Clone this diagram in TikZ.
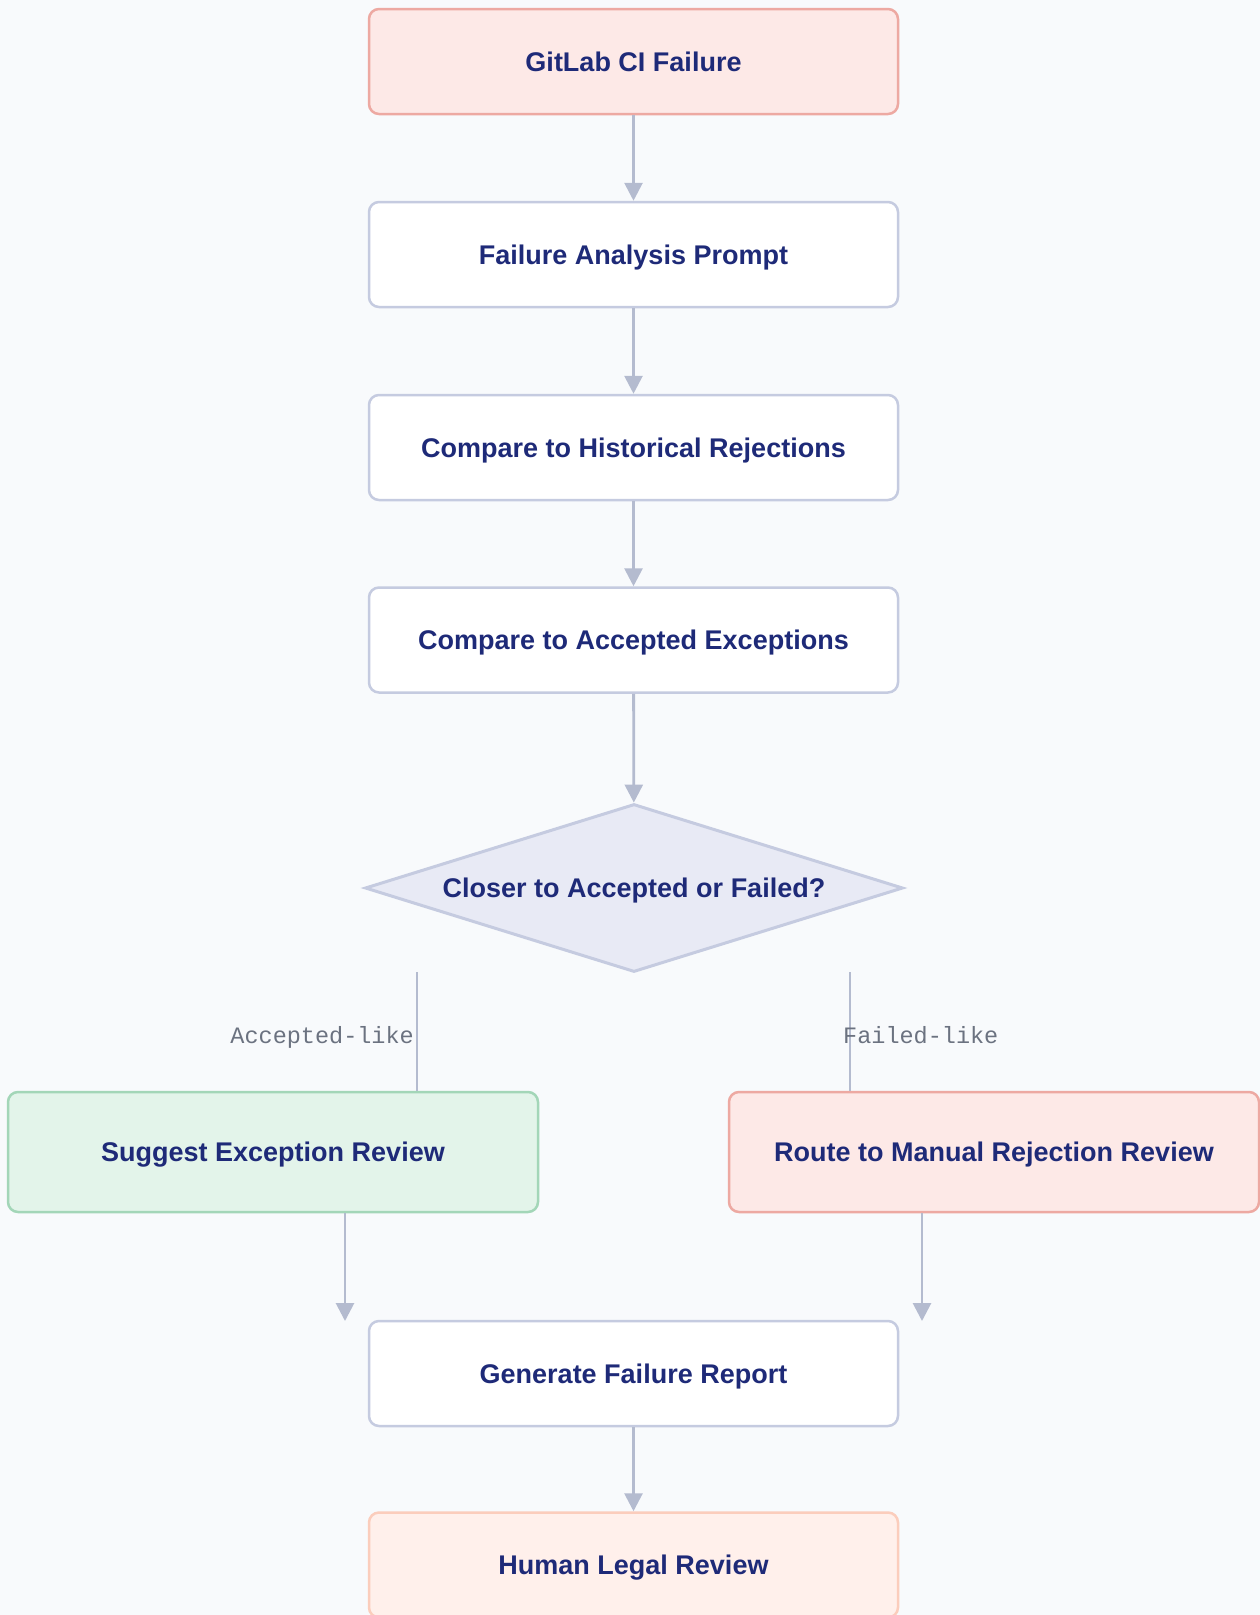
\documentclass[tikz,border=0pt]{standalone}
\usepackage{fontspec}
\setmainfont{Liberation Sans}
\setmonofont{Liberation Mono}
\usetikzlibrary{shapes.geometric,arrows.meta}
\definecolor{bgc}{HTML}{F8FAFC}
\definecolor{boxstroke}{HTML}{C5CBE0}
\definecolor{redfill}{HTML}{FDE9E7}
\definecolor{redstroke}{HTML}{EDA9A2}
\definecolor{greenfill}{HTML}{E3F4EA}
\definecolor{greenstroke}{HTML}{A3D6B8}
\definecolor{humfill}{HTML}{FFF0EB}
\definecolor{humstroke}{HTML}{FBCDBC}
\definecolor{decfill}{HTML}{E8EAF5}
\definecolor{arrc}{HTML}{B4BBCF}
\definecolor{txt}{HTML}{1E2A78}
\definecolor{lblc}{HTML}{6B7280}
\newcommand\mainfnt{\fontsize{27}{32}\selectfont\bfseries}
\newcommand\lblfnt{\ttfamily\fontsize{23.5}{28}\selectfont}
\begin{document}
\begin{tikzpicture}[x=1pt,y=-1pt,
  box/.style={rectangle, rounded corners=10pt, minimum width=529pt, minimum height=105pt,
    line width=2.5pt, draw=boxstroke, fill=white, font=\mainfnt, text=txt, inner sep=0pt,
    text height=19.4pt, text depth=0pt},
  sidebox/.style={box, minimum width=530pt, minimum height=120pt},
  redbox/.style={fill=redfill, draw=redstroke},
  greenbox/.style={fill=greenfill, draw=greenstroke},
  humbox/.style={fill=humfill, draw=humstroke},
  decision/.style={diamond, aspect=3.2, minimum width=538pt, minimum height=168pt, inner sep=0pt,
    line width=3pt, draw=boxstroke, fill=decfill, font=\mainfnt, text=txt,
    text height=19.4pt, text depth=0pt},
  arr/.style={line width=2.8pt, draw=arrc, -{Triangle[width=18pt,length=18pt]}},
  branch/.style={line width=1.8pt, draw=arrc},
  lbl/.style={font=\lblfnt, text=lblc, inner sep=0pt, text height=15pt, text depth=0pt}
]
\fill[bgc] (0,0) rectangle (1260,1615);
\useasboundingbox (0,0) rectangle (1260,1615);

\node[box, redbox] (b1) at (633.5,61.5) {GitLab CI Failure};
\node[box] (b2) at (633.5,254.5) {Failure Analysis Prompt};
\node[box] (b3) at (633.5,447.5) {Compare to Historical Rejections};
\node[box] (b4) at (633.5,640) {Compare to Accepted Exceptions};
\node[decision] (dec) at (634,888) {Closer to Accepted or Failed?};
\node[sidebox, greenbox] (sug) at (273,1152) {Suggest Exception Review};
\node[sidebox, redbox] (rte) at (994,1152) {Route to Manual Rejection Review};
\node[box] (gen) at (633.5,1373.5) {Generate Failure Report};
\node[box, humbox] (hum) at (633.5,1565) {Human Legal Review};

\draw[arr] (b1) -- (b2);
\draw[arr] (b2) -- (b3);
\draw[arr] (b3) -- (b4);
\draw[arr] (b4) -- (dec);

\coordinate (lt) at (417,972);
\coordinate (rt) at (850,972);
\draw[branch] (lt) -- (lt |- sug.north);
\draw[branch] (rt) -- (rt |- rte.north);
\node[lbl, anchor=east] (al) at (414,1036) {Accepted-like};
\node[lbl, anchor=west] (fl) at (843,1036) {Failed-like};

\coordinate (la) at (345,1321);
\coordinate (ra) at (922,1321);
\draw[arr] (la |- sug.south) -- (la);
\draw[arr] (ra |- rte.south) -- (ra);

\draw[arr] (gen) -- (hum);
\end{tikzpicture}
\end{document}
